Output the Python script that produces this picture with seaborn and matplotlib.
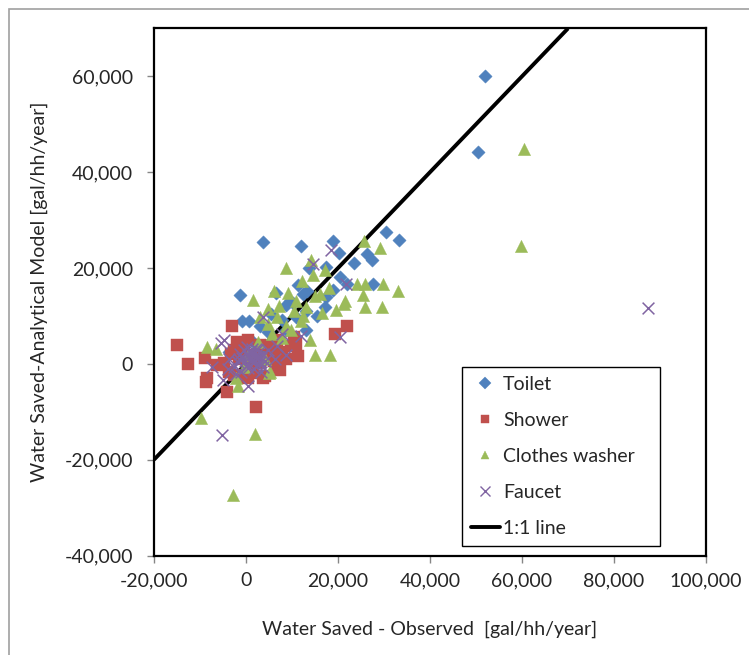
import numpy as np
import pandas as pd
import matplotlib
matplotlib.use("Agg")
import matplotlib.pyplot as plt
from matplotlib.lines import Line2D
from matplotlib.ticker import FuncFormatter
import seaborn as sns

# Observed vs modelled water savings (gal/hh/year)
toilet_x = [52000, 50500, 3700, 12000, 19000, 20300, 30400, 33300, 26200, 27400,
            23500, 17500, 13600, 20400, 27600, 22000, 18900, 11400, 12500, 13300,
            17400, 17100, -1300, 15500, 13100, 6500, 8600, 9600, -900, 700,
            7800, 10900, 13000, 3100, 4700, -3600, -1600, 1600, 4100, 6200,
            8800, 500, 5500, 10200]
toilet_y = [60000, 44300, 25400, 24500, 25600, 23200, 27500, 25800, 23000, 21600,
            21100, 20200, 19900, 18200, 16600, 16600, 15400, 16400, 14600, 15200,
            14000, 11900, 14400, 10000, 11100, 14700, 12300, 13200, 8900, 8900,
            9100, 9800, 7100, 8000, 6700, 2400, 3700, 4500, 2800, 5000,
            7100, 1900, 10500, 12600]

shower_x = [-15100, -12500, -9000, -8500, -8800, -4200, -3000, 2100, 19400, 22000,
            11300, 10900, 10400, -6200, -3600, -2600, 500, 3600, 6500, 7800,
            5700, 4700, -1600, -500, -2600, 2100, 3100, 8800, 9800, 500,
            6700, -4700, 1600, -1000, 4200, 7500, 5500, 3000, -2000, 1200,
            6000, -3300]
shower_y = [4000, 0, 1300, -2900, -3700, -5900, 7800, -9000, 6300, 7800,
            1600, 4100, 5600, -300, -1600, -2400, -2900, -2900, -700, 2400,
            3700, 1000, 1000, 3200, 2800, 1900, 200, 1000, 3700, 5000,
            5000, 200, -700, -2800, -2600, -1300, 2200, 4000, 4500, -2000,
            600, 2000]

washer_x = [60400, 59800, -2900, 1900, -9700, -8500, -6500, -1800, -2100, 4900,
            25600, 29200, 8800, 14200, 17100, 14600, 12100, 24100, 25900, 29800,
            33100, 25400, 25800, 29600, 21200, 21500, 19600, 16600, 18100, 15000,
            9100, 6000, 1600, 4700, 10900, 14000, 15100, 18300, 8800, 11900,
            6700, 3100, 5700, 500, 2600, -500, 4100, 7800, 10400, 13000,
            9800, 4700, 5200, 12400, 16000, 7200]
washer_y = [44800, 24600, -27400, -14600, -11300, 3500, 3000, -4600, -2900, -2000,
            25600, 24200, 19900, 21600, 19500, 18600, 17300, 16600, 16700, 16600,
            15100, 14300, 11900, 11900, 12400, 13100, 11200, 10600, 15900, 14100,
            14700, 15200, 13400, 11500, 13200, 5000, 1800, 1800, 8000, 8900,
            9800, 9800, 6300, 1900, 4500, -700, 1000, 5400, 11100, 11900,
            7100, 8400, -1600, 10000, 14500, 12000]

faucet_x = [87300, -5200, 18400, 14500, 21800, 20400, 11900, -4700, -5500, 500,
            -5000, -7300, 3600, 7800, -1600, 500, 1600, -500, 2600, -2600,
            3600, 4700, 6200, -1000, 1000, 200, 2100, 6700, 8800, -3600,
            1200, 800, 2000, 1500, -300, 2800, 300, 3200, -1200, 1800,
            2200, 3000, 1000, -800, 400, 2500, 3800, 1300, -1800, 2300,
            600, 1700, 4200, -2200, 3300, -4000]
faucet_y = [11700, -14800, 23700, 20900, 16700, 5700, 5800, 5000, 4400, -4600,
            -3300, -700, 9800, 6300, 1000, 1900, 200, 2800, 1500, -700,
            -700, 2800, 1000, -1600, 1000, -300, 3200, 3700, 1900, 1000,
            800, 2200, 500, 1800, 600, 2400, 3500, 1200, 2000, -1000,
            1400, 300, 2600, 1200, -900, -300, 2000, 3000, 300, 2900,
            1500, 600, 600, -2200, -1800, -1000]

line_x = [-20000, 70000]
line_y = [-20000, 70000]

series_names = ["Toilet", "Shower", "Clothes washer", "Faucet"]

df = pd.concat([
    pd.DataFrame({"observed": toilet_x, "model": toilet_y, "device": "Toilet"}),
    pd.DataFrame({"observed": shower_x, "model": shower_y, "device": "Shower"}),
    pd.DataFrame({"observed": washer_x, "model": washer_y, "device": "Clothes washer"}),
    pd.DataFrame({"observed": faucet_x, "model": faucet_y, "device": "Faucet"}),
], ignore_index=True)

colors = {"Toilet": "#4F81BD", "Shower": "#C0504D",
          "Clothes washer": "#9BBB59", "Faucet": "#8064A2"}
markers = {"Toilet": "D", "Shower": "s", "Clothes washer": "^", "Faucet": "x"}
sizes = {"Toilet": 46, "Shower": 78, "Clothes washer": 78, "Faucet": 72}

sns.set_style("white")
plt.rcParams["font.family"] = ["Lato", "DejaVu Sans"]

fig = plt.figure(figsize=(7.49, 6.55), dpi=100)
ax = fig.add_axes([0.2056, 0.1519, 0.7370, 0.8047])

# 1:1 line sits under the markers
ax.plot(line_x, line_y, color="black", lw=2.8, zorder=1, solid_capstyle="butt")

for name in series_names:
    sub = df[df.device == name]
    if markers[name] == "x":
        sns.scatterplot(data=sub, x="observed", y="model", marker="x",
                        color=colors[name], s=sizes[name], linewidth=1.1,
                        ax=ax, zorder=3)
    else:
        sns.scatterplot(data=sub, x="observed", y="model", marker=markers[name],
                        color=colors[name], s=sizes[name], linewidth=0.3,
                        edgecolor=colors[name], ax=ax, zorder=3)

ax.set_xlim(-20000, 100000)
ax.set_ylim(-40000, 70000)
ax.set_xticks(np.arange(-20000, 100001, 20000))
ax.set_yticks(np.arange(-40000, 60001, 20000))
fmt = FuncFormatter(lambda v, p: f"{int(v):,}")
ax.xaxis.set_major_formatter(fmt)
ax.yaxis.set_major_formatter(fmt)
ax.tick_params(axis="both", direction="out", length=5, width=1, color="#868686",
               labelsize=14, bottom=True, left=True)
ax.tick_params(axis="y", pad=10)
ax.tick_params(axis="x", pad=7)
for sp in ax.spines.values():
    sp.set_color("black")
    sp.set_linewidth(1.6)

ax.set_xlabel("Water Saved - Observed  [gal/hh/year]", fontsize=14, labelpad=23)
ax.set_ylabel("Water Saved-Analytical Model [gal/hh/year]", fontsize=14, labelpad=12)

handles = [Line2D([], [], ls="", marker=markers[n], color=colors[n],
                  markersize=6 if n != "Faucet" else 7, markeredgewidth=1 if n == "Faucet" else 0.3)
           for n in series_names]
handles.append(Line2D([], [], color="black", lw=2.8))
leg = ax.legend(handles, series_names + ["1:1 line"], loc="upper left",
                bbox_to_anchor=(0.558, 0.358, 0.359, 0.0), mode="expand",
                fontsize=14, frameon=True, fancybox=False, framealpha=1,
                edgecolor="black", handlelength=1.5, handletextpad=0.15,
                labelspacing=0.98, borderpad=0.45, borderaxespad=0)
leg.get_frame().set_linewidth(1.0)

# light chart-area border as in the spreadsheet export
fig.patches.append(plt.Rectangle((9 / 749, -0.05), 1.2, 1 - 9 / 655 + 0.05,
                                 transform=fig.transFigure, fill=False,
                                 edgecolor="#A0A0A0", lw=1.2))

fig.savefig("out.png", dpi=100, facecolor="white")
